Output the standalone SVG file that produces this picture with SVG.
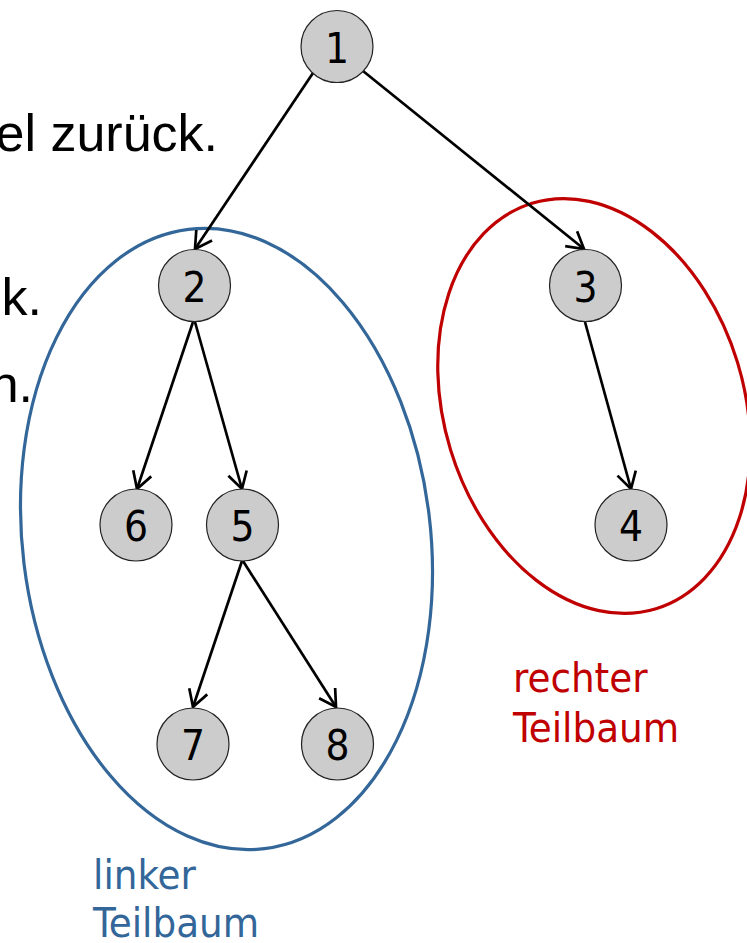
<svg xmlns="http://www.w3.org/2000/svg" width="747" height="943" viewBox="0 0 747 943">
<style>
.node circle{fill:#cccccc;stroke:#222;stroke-width:1.2}
.node text{font-family:"DejaVu Sans Condensed","DejaVu Sans",sans-serif;font-stretch:condensed;font-size:42px;text-anchor:middle;fill:#000}
.edge{stroke:#000;stroke-width:2.7;fill:none;marker-end:url(#arr)}
.body{font-family:"Liberation Sans",Arial,sans-serif;font-size:52px;fill:#000;text-anchor:end}
.lab{font-family:"DejaVu Sans Condensed","DejaVu Sans",sans-serif;font-stretch:condensed;font-size:41.5px}
</style>
<defs>
<marker id="arr" viewBox="0 0 20 22" refX="18" refY="11" markerWidth="20" markerHeight="22" markerUnits="userSpaceOnUse" orient="auto">
<path d="M1.5,1.5 L18,11 L1.5,20.5" fill="none" stroke="#000" stroke-width="2.7" stroke-linejoin="miter"/>
</marker>
</defs>
<rect width="747" height="943" fill="#fff"/>
<g id="background-text">
<text class="body" x="218" y="151">el zurück.</text>
<text class="body" x="42" y="315">k.</text>
<text class="body" x="33" y="402">n.</text>
</g>
<g id="subtrees">
<ellipse cx="226.5" cy="539" rx="204" ry="312" transform="rotate(-7 226.5 539)" fill="none" stroke="#336699" stroke-width="3.2"/>
<ellipse cx="594" cy="406" rx="150" ry="212" transform="rotate(-17 594 406)" fill="none" stroke="#c00000" stroke-width="3.2"/>
<text class="lab" x="93" y="889" fill="#336699">linker</text>
<text class="lab" x="93" y="937" fill="#336699">Teilbaum</text>
<text class="lab" x="513" y="692" fill="#c00000">rechter</text>
<text class="lab" x="513" y="742" fill="#c00000">Teilbaum</text>
</g>
<g id="connectors">
<line class="edge" x1="313" y1="73" x2="195" y2="249"/>
<line class="edge" x1="363" y1="71" x2="584" y2="249"/>
<line class="edge" x1="193" y1="322" x2="137" y2="489"/>
<line class="edge" x1="195" y1="322" x2="242" y2="489"/>
<line class="edge" x1="242" y1="561" x2="193" y2="707"/>
<line class="edge" x1="243" y1="561" x2="336" y2="707"/>
<line class="edge" x1="585" y1="322" x2="631" y2="489"/>
</g>
<g id="n1" class="node"><circle cx="337" cy="46.5" r="36"/><text x="337" y="62.5">1</text></g>
<g id="n2" class="node"><circle cx="194.5" cy="285.5" r="36"/><text x="194.5" y="301.5">2</text></g>
<g id="n3" class="node"><circle cx="585.5" cy="285.5" r="36"/><text x="585.5" y="301.5">3</text></g>
<g id="n6" class="node"><circle cx="136" cy="525" r="36"/><text x="136" y="541">6</text></g>
<g id="n5" class="node"><circle cx="242.5" cy="525" r="36"/><text x="242.5" y="541">5</text></g>
<g id="n4" class="node"><circle cx="631" cy="525" r="36"/><text x="631" y="541">4</text></g>
<g id="n7" class="node"><circle cx="193" cy="744" r="36"/><text x="193" y="760">7</text></g>
<g id="n8" class="node"><circle cx="337.5" cy="744" r="36"/><text x="337.5" y="760">8</text></g>
</svg>
